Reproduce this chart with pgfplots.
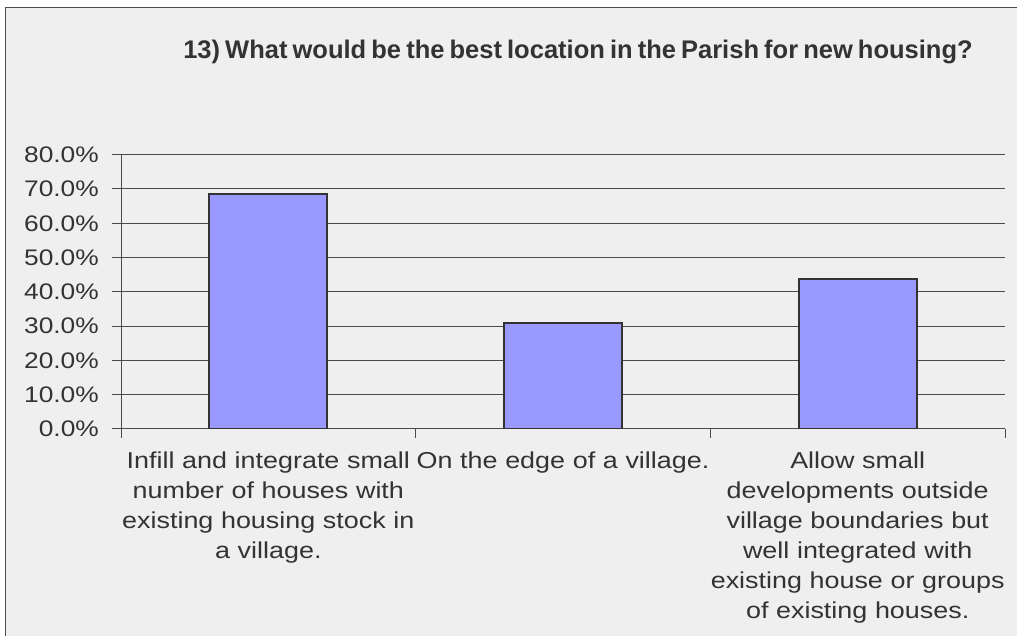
\documentclass[border=0pt]{standalone}
\usepackage{pgfplots}
\pgfplotsset{compat=1.18}
\usepackage{fontspec}
\setmainfont{Liberation Sans}
\newfontfamily\widefont{Liberation Sans}[FakeStretch=1.17]
\definecolor{bg}{HTML}{EFEFEF}
\definecolor{barc}{HTML}{9999FF}
\definecolor{edge}{HTML}{333333}
\definecolor{txt}{HTML}{333333}
\definecolor{gridc}{HTML}{4A4A4A}
\begin{document}
\begin{tikzpicture}[x=1pt,y=1pt]
\useasboundingbox (0,0) rectangle (1017,636);
\fill[white] (0,0) rectangle (1017,636);
\fill[bg] (5.5,0) rectangle (1017,628);
\draw[gray!60!black, line width=1pt] (5.5,-2) -- (5.5,628) -- (1020,628);
\begin{axis}[
  at={(121pt,207pt)}, anchor=south west,
  scale only axis, width=884pt, height=274.3pt,
  xmin=-0.5, xmax=2.5, ymin=0, ymax=80,
  axis x line=bottom, axis y line=left,
  axis line style={-, draw=gridc, line width=1pt},
  ytick={0,10,...,80},
  yticklabels={0.0\%,10.0\%,20.0\%,30.0\%,40.0\%,50.0\%,60.0\%,70.0\%,80.0\%},
  yticklabel style={font=\widefont\fontsize{22.5}{26}\selectfont, text=txt, anchor=east, inner sep=0pt, xshift=-13pt},
  ymajorgrids, grid style={draw=gridc, line width=1pt},
  tick align=outside, major tick length=9pt,
  tick style={draw=gridc, line width=1pt},
  xtick={-0.5,0.5,1.5,2.5}, xticklabels={,,,},
  extra x ticks={0,1,2},
  extra x tick labels={
    {Infill and integrate small\\number of houses with\\existing housing stock in\\a village.},
    {On the edge of a village.},
    {Allow small\\developments outside\\village boundaries but\\well integrated with\\existing house or groups\\of existing houses.}},
  extra x tick style={major tick length=0pt, xticklabel style={text width=300pt, align=center, font=\widefont\fontsize{23}{30}\selectfont, text=txt, anchor=north, inner sep=0pt, yshift=-23pt}},
]
\addplot[ybar, bar width=0.4, fill=barc, draw=edge, line width=2pt] coordinates {(0,68.6) (1,30.8) (2,43.8)};
\end{axis}
\node[anchor=base, text=txt, inner sep=0pt, font=\fontsize{25.5}{30}\selectfont\bfseries] at (578,577) {\spaceskip=0.2em\relax 13) What would be the best location in the Parish for new housing?};
\end{tikzpicture}
\end{document}
